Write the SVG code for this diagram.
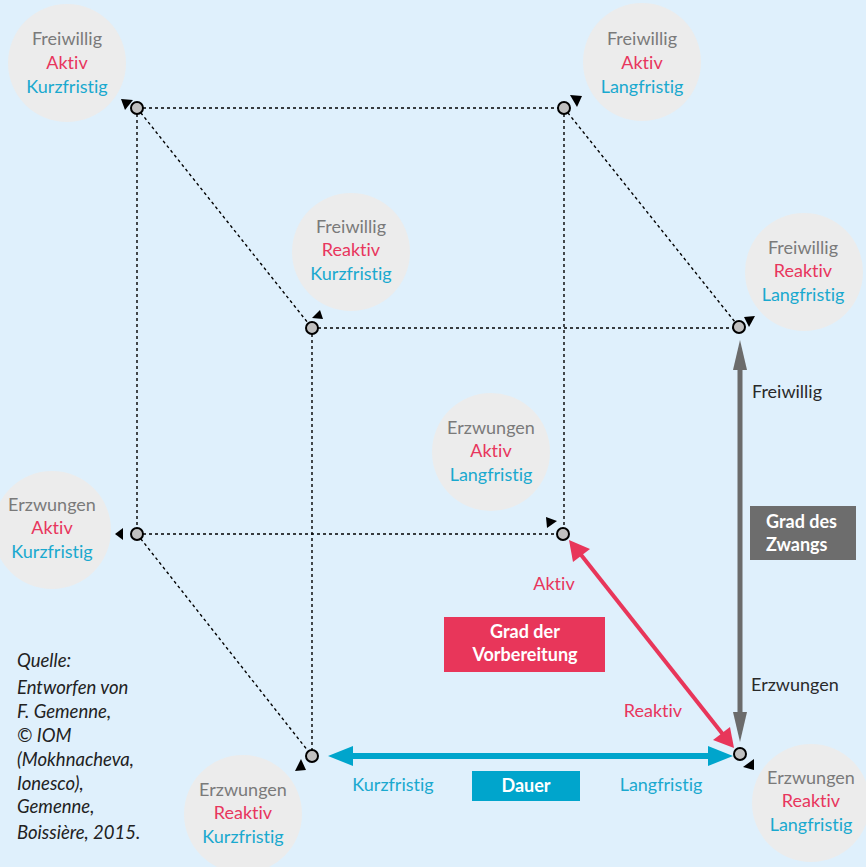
<svg xmlns="http://www.w3.org/2000/svg" width="866" height="867" viewBox="0 0 866 867">
<style>
text{font-variant-ligatures:none;font-family:Lato,"Liberation Sans",sans-serif}
.bg{fill:#dff0fc}
.big{fill:#ececec}
.t{font-size:18px;text-anchor:middle}
.g{fill:#7a7a7a}.r{fill:#e8365d}.c{fill:#1aa9cf}
.dot{stroke:#000;stroke-width:1.4;stroke-dasharray:3 3;fill:none}
.node{fill:#c0c0c0;stroke:#000;stroke-width:2}
.ah{fill:#000}
.lbl{font-size:18px}
.bx{font-size:18px;font-weight:bold;fill:#fff}
.src{font-size:18.5px;font-style:italic;fill:#222}
</style>
<rect class="bg" x="0" y="0" width="866" height="867"/>
<g id="FAK"><circle class="big" cx="67" cy="63" r="59"/><text class="t g" x="67" y="45">Freiwillig</text><text class="t r" x="67" y="69">Aktiv</text><text class="t c" x="67" y="93">Kurzfristig</text></g>
<g id="FAL"><circle class="big" cx="642" cy="62" r="59"/><text class="t g" x="642" y="45">Freiwillig</text><text class="t r" x="642" y="69">Aktiv</text><text class="t c" x="642" y="93">Langfristig</text></g>
<g id="FRK"><circle class="big" cx="351" cy="252" r="59"/><text class="t g" x="351" y="233">Freiwillig</text><text class="t r" x="351" y="256">Reaktiv</text><text class="t c" x="351" y="280">Kurzfristig</text></g>
<g id="FRL"><circle class="big" cx="804" cy="272" r="59"/><text class="t g" x="803" y="254">Freiwillig</text><text class="t r" x="803" y="277">Reaktiv</text><text class="t c" x="803" y="301">Langfristig</text></g>
<g id="EAK"><circle class="big" cx="52" cy="530" r="59"/><text class="t g" x="52" y="511">Erzwungen</text><text class="t r" x="52" y="534">Aktiv</text><text class="t c" x="52" y="558">Kurzfristig</text></g>
<g id="EAL"><circle class="big" cx="491" cy="452" r="59"/><text class="t g" x="491" y="434">Erzwungen</text><text class="t r" x="491" y="457">Aktiv</text><text class="t c" x="491" y="481">Langfristig</text></g>
<g id="ERK"><circle class="big" cx="243" cy="814" r="59"/><text class="t g" x="243" y="796">Erzwungen</text><text class="t r" x="243" y="819">Reaktiv</text><text class="t c" x="243" y="843">Kurzfristig</text></g>
<g id="ERL"><circle class="big" cx="811" cy="803" r="59"/><text class="t g" x="811" y="784">Erzwungen</text><text class="t r" x="811" y="807">Reaktiv</text><text class="t c" x="811" y="831">Langfristig</text></g>
<g id="connectors">
<path class="dot" d="M137 108H564M137 108V534M137 108L312 328M564 108V534M564 108L739 327M312 328H739M312 328V756M137 534H563M137 534L312 756"/>
<line x1="740" y1="360" x2="740" y2="722" stroke="#6b6b6b" stroke-width="5"/>
<polygon points="740,340 733,370 747,370" fill="#6b6b6b"/>
<polygon points="740,742 733,712 747,712" fill="#6b6b6b"/>
<line x1="578" y1="551" x2="725" y2="737" stroke="#e8365a" stroke-width="4"/>
<polygon points="569,540 573,562 590,549" fill="#e8365a"/>
<polygon points="734,748 713,740 730,727" fill="#e8365a"/>
<line x1="345" y1="756" x2="715" y2="756" stroke="#00a5cc" stroke-width="6"/>
<polygon points="328,756 353,746 353,766" fill="#00a5cc"/>
<polygon points="733,756 708,746 708,766" fill="#00a5cc"/>
</g>
<g id="markers">
<polygon class="ah" points="121,99 133,100 125,110"/>
<polygon class="ah" points="570,95 582,96 577,107"/>
<polygon class="ah" points="312,318 323,319 320,310"/>
<polygon class="ah" points="744,317 755,316 749,327"/>
<polygon class="ah" points="115,534 123,528 123,540"/>
<polygon class="ah" points="546,517 557,521 547,528"/>
<polygon class="ah" points="301,759 295,771 306,770"/>
<polygon class="ah" points="743,767 754,759 754,770"/>
</g>
<g id="nodes">
<circle id="nA" class="node" cx="137" cy="108" r="6"/>
<circle id="nB" class="node" cx="564" cy="108" r="6"/>
<circle id="nC" class="node" cx="312" cy="328" r="6"/>
<circle id="nD" class="node" cx="739" cy="327" r="6"/>
<circle id="nE" class="node" cx="137" cy="534" r="6"/>
<circle id="nF" class="node" cx="563" cy="534" r="6"/>
<circle id="nG" class="node" cx="312" cy="756" r="6"/>
<circle id="nH" class="node" cx="740" cy="754" r="6"/>
</g>
<g id="labels">
<text class="lbl" x="752" y="398" fill="#2a2a2a">Freiwillig</text>
<text class="lbl" x="751" y="691" fill="#2a2a2a">Erzwungen</text>
<g id="zwang"><rect x="750" y="506" width="106" height="54" fill="#6d6d6d"/><text class="bx" x="766" y="528">Grad des</text><text class="bx" x="766" y="551">Zwangs</text></g>
<text class="lbl r" x="554" y="590" text-anchor="middle">Aktiv</text>
<g id="vorb"><rect x="444" y="617" width="161" height="55" fill="#e8365a"/><text class="bx" x="525" y="638" text-anchor="middle">Grad der</text><text class="bx" x="525" y="661" text-anchor="middle">Vorbereitung</text></g>
<text class="lbl r" x="653" y="717" text-anchor="middle">Reaktiv</text>
<text class="lbl c" x="393" y="791" text-anchor="middle">Kurzfristig</text>
<g id="dauer"><rect x="472" y="771" width="108" height="30" fill="#00a5cc"/><text class="bx" x="526" y="792" text-anchor="middle">Dauer</text></g>
<text class="lbl c" x="661" y="791" text-anchor="middle">Langfristig</text>
</g>
<g id="source">
<text class="src" x="17" y="667">Quelle:</text>
<text class="src" x="17" y="694">Entworfen von</text>
<text class="src" x="17" y="718">F. Gemenne,</text>
<text class="src" x="17" y="742">© IOM</text>
<text class="src" x="17" y="766">(Mokhnacheva,</text>
<text class="src" x="17" y="790">Ionesco),</text>
<text class="src" x="17" y="813">Gemenne,</text>
<text class="src" x="17" y="839">Boissière, 2015.</text>
</g>
</svg>
